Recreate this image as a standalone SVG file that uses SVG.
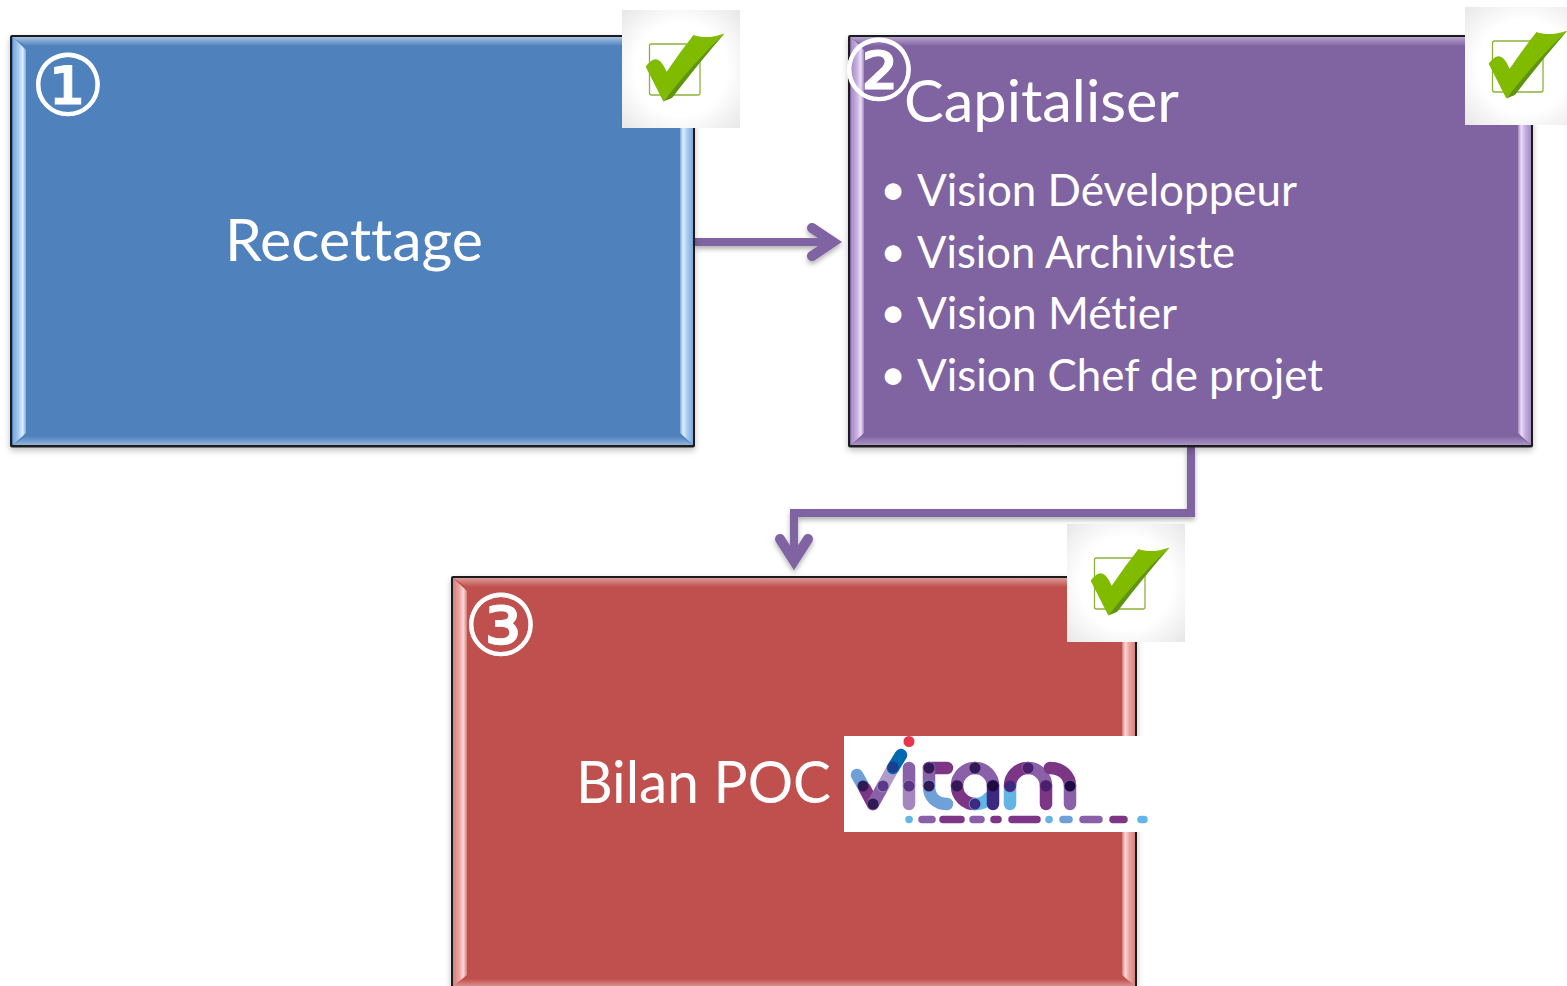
<svg xmlns="http://www.w3.org/2000/svg" width="1567" height="986" viewBox="0 0 1567 986">
<style>
text{font-family:"Lato","Open Sans","Liberation Sans",sans-serif;fill:#fff;font-variant-ligatures:none}
.t{font-size:59px}
.b{font-size:45px}
.n{font-family:"DejaVu Sans",sans-serif;font-size:84px;stroke:#fff;stroke-width:1}
.edge{fill:#1f1f1f}
.c{fill:none;stroke:#8064a2;stroke-width:8}
.h{fill:none;stroke:#8064a2;stroke-width:10;stroke-linecap:round;stroke-linejoin:miter}
.l{fill:none;stroke-width:12.5;stroke-linecap:round}
.d{fill:none;stroke-width:7.5;stroke-linecap:round}
</style>
<defs>
<radialGradient id="tile" cx="50%" cy="50%" r="72%"><stop offset="0.55" stop-color="#fff"/><stop offset="1" stop-color="#e6e6e6"/></radialGradient>
<linearGradient id="blueV" x1="0" x2="1" y1="0" y2="0"><stop offset="0" stop-color="#7fa6d6"/><stop offset="0.45" stop-color="#a8cdf2"/><stop offset="0.75" stop-color="#dcefff"/><stop offset="1" stop-color="#7ea9da"/></linearGradient>
<linearGradient id="blueR" href="#blueV" x1="1" x2="0" y1="0" y2="0"/>
<linearGradient id="purpleV" x1="0" x2="1" y1="0" y2="0"><stop offset="0" stop-color="#a48bc1"/><stop offset="0.45" stop-color="#c6b1de"/><stop offset="0.75" stop-color="#eadcf8"/><stop offset="1" stop-color="#a088bd"/></linearGradient>
<linearGradient id="purpleR" href="#purpleV" x1="1" x2="0" y1="0" y2="0"/>
<linearGradient id="redV" x1="0" x2="1" y1="0" y2="0"><stop offset="0" stop-color="#d5827f"/><stop offset="0.45" stop-color="#eda4a1"/><stop offset="0.75" stop-color="#fbd8d6"/><stop offset="1" stop-color="#d47a77"/></linearGradient>
<linearGradient id="redR" href="#redV" x1="1" x2="0" y1="0" y2="0"/>
<linearGradient id="blueT" x1="0" x2="0" y1="0" y2="1"><stop offset="0" stop-color="#a9c3e2"/><stop offset="1" stop-color="#4f81bd"/></linearGradient>
<linearGradient id="purpleT" x1="0" x2="0" y1="0" y2="1"><stop offset="0" stop-color="#b7a4cd"/><stop offset="1" stop-color="#8064a2"/></linearGradient>
<linearGradient id="redT" x1="0" x2="0" y1="0" y2="1"><stop offset="0" stop-color="#dc9b99"/><stop offset="1" stop-color="#c0504d"/></linearGradient>
<linearGradient id="blueB" x1="0" x2="0" y1="0" y2="1"><stop offset="0" stop-color="#4f81bd"/><stop offset="1" stop-color="#92b2d9"/></linearGradient>
<linearGradient id="purpleB" x1="0" x2="0" y1="0" y2="1"><stop offset="0" stop-color="#8064a2"/><stop offset="1" stop-color="#a993c4"/></linearGradient>
<linearGradient id="redB" x1="0" x2="0" y1="0" y2="1"><stop offset="0" stop-color="#c0504d"/><stop offset="1" stop-color="#d98f8d"/></linearGradient>
<filter id="sh" x="-5%" y="-5%" width="110%" height="110%"><feDropShadow dx="0" dy="3" stdDeviation="3" flood-color="#000" flood-opacity="0.25"/></filter>
<filter id="csh" x="-10%" y="-10%" width="120%" height="130%"><feDropShadow dx="0" dy="3" stdDeviation="2.5" flood-color="#000" flood-opacity="0.3"/></filter>
<g id="check">
<rect width="118" height="118" fill="url(#tile)"/>
<rect x="27.5" y="34" width="50.5" height="51" rx="2" fill="none" stroke="#8db33a" stroke-width="1.3"/>
<path d="M102.5 23.5C90 28 80 28 71.5 25Q58 42 44.7 61.7C41 54 38 49 33 49.3C29 50 26 54 23.7 56.7L41.3 91.5Q72 56 102.5 23.500Z" fill="#80bb00"/>
<path d="M102.5 23.5Q72 52 41.3 91.5L50 88Q76 54 102.5 23.500Z" fill="#5f9410"/>
</g>
</defs>

<g id="connectors" filter="url(#csh)">
<path class="c" d="M695 242H834"/>
<path class="h" d="M812 228L833 242L812 256"/>
<path class="c" d="M1191 447V513H794V558"/>
<path class="h" d="M780 539L794 561L808 539"/>
</g>

<g id="node-1">
<rect x="10" y="35" width="685" height="412.500" rx="2" class="edge" filter="url(#sh)"/>
<rect x="12" y="37" width="681" height="408" fill="#4f81bd"/>
<path d="M12 37H693L681 46H26Z" fill="url(#blueT)"/>
<path d="M13 37L26 50V433L13 445Z" fill="url(#blueV)"/>
<path d="M693 37L680 50V433L693 445Z" fill="url(#blueR)"/>
<path d="M13 445L26 436H680L693 445Z" fill="url(#blueB)"/>
<text class="n" x="68" y="115" text-anchor="middle">①</text>
<text class="t" x="354" y="261" text-anchor="middle" textLength="258" lengthAdjust="spacingAndGlyphs">Recettage</text>
<use href="#check" x="622" y="10"/>
</g>

<g id="node-2">
<rect x="848" y="35" width="685" height="412.500" rx="2" class="edge" filter="url(#sh)"/>
<rect x="850" y="37" width="681" height="408" fill="#8064a2"/>
<path d="M850 37H1531L1519 46H864Z" fill="url(#purpleT)"/>
<path d="M851 37L864 50V433L851 445Z" fill="url(#purpleV)"/>
<path d="M1531 37L1518 50V433L1531 445Z" fill="url(#purpleR)"/>
<path d="M851 445L864 436H1518L1531 445Z" fill="url(#purpleB)"/>
<text class="n" x="879" y="100" text-anchor="middle">②</text>
<text class="t" x="904" y="122" textLength="275" lengthAdjust="spacingAndGlyphs">Capitaliser</text>
<text class="b" x="880" y="205">•</text>
<text class="b" x="917" y="206" textLength="380" lengthAdjust="spacingAndGlyphs">Vision Développeur</text>
<text class="b" x="880" y="267">•</text>
<text class="b" x="917" y="268" textLength="318" lengthAdjust="spacingAndGlyphs">Vision Archiviste</text>
<text class="b" x="880" y="328">•</text>
<text class="b" x="917" y="329" textLength="260" lengthAdjust="spacingAndGlyphs">Vision Métier</text>
<text class="b" x="880" y="390">•</text>
<text class="b" x="917" y="391" textLength="406" lengthAdjust="spacingAndGlyphs">Vision Chef de projet</text>
<use href="#check" x="1465" y="7"/>
</g>

<g id="node-3">
<rect x="451" y="576" width="686" height="420" rx="2" class="edge" filter="url(#sh)"/>
<rect x="453" y="578" width="682" height="416" fill="#c0504d"/>
<path d="M453 578H1135L1123 587H467Z" fill="url(#redT)"/>
<path d="M453 979H1135V986H453Z" fill="url(#redB)"/>
<path d="M453 578L467 591V975L453 986Z" fill="url(#redV)"/>
<path d="M1135 578L1122 591V975L1135 986Z" fill="url(#redR)"/>
<text class="n" x="501" y="655" text-anchor="middle">③</text>
<text class="t" x="576" y="803" textLength="255" lengthAdjust="spacingAndGlyphs">Bilan POC</text>
<use href="#check" x="1067" y="524"/>
<g id="vitam-logo">
<rect x="844" y="736" width="304" height="96" fill="#fff"/>
<circle cx="909" cy="741.5" r="5.5" fill="#e8344e"/>
<path class="l" stroke="#6f9fd8" d="M857 775L865 789"/>
<path class="l" stroke="#7d3585" d="M865 789L873 804"/>
<path class="l" stroke="#8a60a8" d="M873 804L883 786"/>
<path class="l" stroke="#b09ccb" d="M883 786L893 768"/>
<path class="l" stroke="#0067b1" d="M893 768L901 755"/>
<path class="l" stroke="#8a60a8" d="M909 768V786"/>
<path class="l" stroke="#a587c0" d="M909 786V804"/>
<path class="l" stroke="#7d3585" d="M929 768H947"/>
<path class="l" stroke="#8a60a8" d="M929 768V786"/>
<path class="l" stroke="#6fa0d8" d="M929 786C929 797 936 804 947 804"/>
<path class="l" stroke="#8a60a8" d="M957 786A18 18 0 0 1 975 768"/>
<path class="l" stroke="#8a60a8" d="M975 768A18 18 0 0 1 993 786"/>
<path class="l" stroke="#7d3585" d="M957 786A18 18 0 0 0 975 804"/>
<path class="l" stroke="#62b5e5" d="M975 804A18 18 0 0 0 989 798"/>
<path class="l" stroke="#3c2a80" d="M993 786V804"/>
<path class="l" stroke="#62b5e5" d="M1010 786V804"/>
<path class="l" stroke="#7d3585" d="M1010 786A18 18 0 0 1 1028 768"/>
<path class="l" stroke="#8a60a8" d="M1028 768A18 18 0 0 1 1046 786"/>
<path class="l" stroke="#7d3585" d="M1046 786V804"/>
<path class="l" stroke="#7d3585" d="M1050 768C1062 768 1070 776 1070 786"/>
<path class="l" stroke="#8a60a8" d="M1070 786V804"/>
<g fill="#2f1a55">
<circle cx="863" cy="786" r="5.500"/><circle cx="873" cy="804" r="5.500"/><circle cx="883" cy="786" r="5.500" fill="#5a3a8a"/><circle cx="893" cy="767" r="5.500" fill="#1b3f8f"/>
<circle cx="909" cy="786" r="5.500" fill="#5a3585"/><circle cx="929" cy="768" r="5.500"/><circle cx="929" cy="786" r="5.500"/>
<circle cx="957" cy="786" r="5.500"/><circle cx="975" cy="768" r="5.500"/><circle cx="975" cy="804" r="5.500" fill="#3c2a80"/><circle cx="993" cy="786" r="5.500" fill="#1f0b3f"/>
<circle cx="1010" cy="786" r="5.500" fill="#3c2a80"/><circle cx="1028" cy="768" r="5.500" fill="#4a1f6e"/><circle cx="1046" cy="786" r="5.500" fill="#4a1f6e"/><circle cx="1070" cy="786" r="5.500" fill="#1f0b3f"/>
</g>
<path class="d" stroke="#62b5e5" d="M909 819.5H909.100M1049 819.5H1049.100M1141 819.5H1144"/>
<path class="d" stroke="#8a60a8" d="M922 819.5H932M973 819.5H981M1083 819.5H1099"/>
<path class="d" stroke="#7d3585" d="M943 819.5H961M994 819.5H998M1012 819.5H1037M1113 819.5H1124"/>
<path class="d" stroke="#6fa0d8" d="M1063 819.5H1069"/>
</g>
</g>
</svg>
